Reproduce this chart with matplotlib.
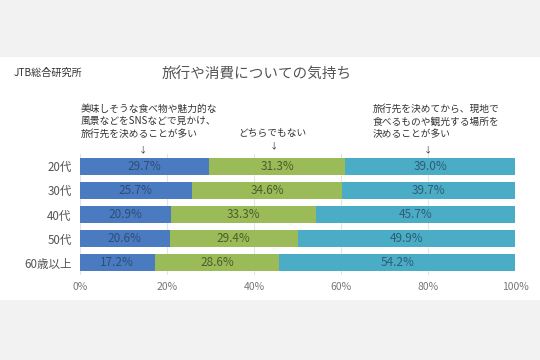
import matplotlib.pyplot as plt
import matplotlib.patches as mpatches
import numpy as np

plt.rcParams['font.family'] = ['Noto Sans CJK JP', 'DejaVu Sans']

ages = ['20代', '30代', '40代', '50代', '60歳以上']
sns_first = [29.7, 25.7, 20.9, 20.6, 17.2]
neither = [31.3, 34.6, 33.3, 29.4, 28.6]
local_later = [39.0, 39.7, 45.7, 49.9, 54.2]
x_ticks = [0, 20, 40, 60, 80, 100]

colors = ['#4a7bc1', '#9bbb59', '#4bacc6']
text_colors = ['#2e4d78', '#4a5e2a', '#2d5d74']

fig = plt.figure(figsize=(5.4, 3.6), dpi=100)
fig.patch.set_facecolor('#f2f2f2')
fig.add_artist(mpatches.Rectangle((0, 0.167), 1, 0.675, transform=fig.transFigure,
                                  facecolor='white', edgecolor='none', zorder=-5))

ax = fig.add_axes([0.148, 0.236, 0.806, 0.336])
ax.set_facecolor('none')

y = np.arange(len(ages))
left = np.zeros(len(ages))
for vals, c, tc in zip([sns_first, neither, local_later], colors, text_colors):
    vals = np.array(vals)
    ax.barh(y, vals, left=left, height=0.7, color=c, zorder=2)
    for yi, l, v in zip(y, left, vals):
        ax.text(l + v / 2, yi, '%.1f%%' % v, ha='center', va='center',
                fontsize=8.5, color=tc, zorder=3)
    left += vals

ax.set_xlim(0, 100)
ax.set_ylim(len(ages) - 0.5, -0.5)
ax.set_yticks(y)
ax.set_yticklabels(ages, fontsize=8.3, color='#555555')
ax.set_xticks(x_ticks)
ax.set_xticklabels(['%d%%' % t for t in x_ticks], fontsize=7.5, color='#777777')
ax.tick_params(length=0, axis='y', pad=6)
ax.tick_params(length=0, axis='x', pad=5)
for s in ax.spines.values():
    s.set_visible(False)
ax.grid(axis='x', color='#e4e4e4', linewidth=0.8, zorder=0)
ax.set_axisbelow(True)

fig.text(0.475, 0.793, '旅行や消費についての気持ち', ha='center', va='center',
         fontsize=10.5, color='#555555')
fig.text(0.026, 0.798, 'JTB総合研究所', ha='left', va='center', fontsize=7.3, color='#333333')

fig.text(0.15, 0.663, '美味しそうな食べ物や魅力的な\n風景などをSNSなどで見かけ、\n旅行先を決めることが多い',
         ha='left', va='center', fontsize=7, color='#333333', linespacing=1.3)
fig.text(0.265, 0.585, '↓', ha='center', va='center', fontsize=6, color='#333333')
fig.text(0.505, 0.632, 'どちらでもない', ha='center', va='center', fontsize=7, color='#333333')
fig.text(0.507, 0.595, '↓', ha='center', va='center', fontsize=6, color='#333333')
fig.text(0.69, 0.663, '旅行先を決めてから、現地で\n食べるものや観光する場所を\n決めることが多い',
         ha='left', va='center', fontsize=7, color='#333333', linespacing=1.3)
fig.text(0.793, 0.585, '↓', ha='center', va='center', fontsize=6, color='#333333')

fig.savefig('out.png', dpi=100, facecolor=fig.get_facecolor())
